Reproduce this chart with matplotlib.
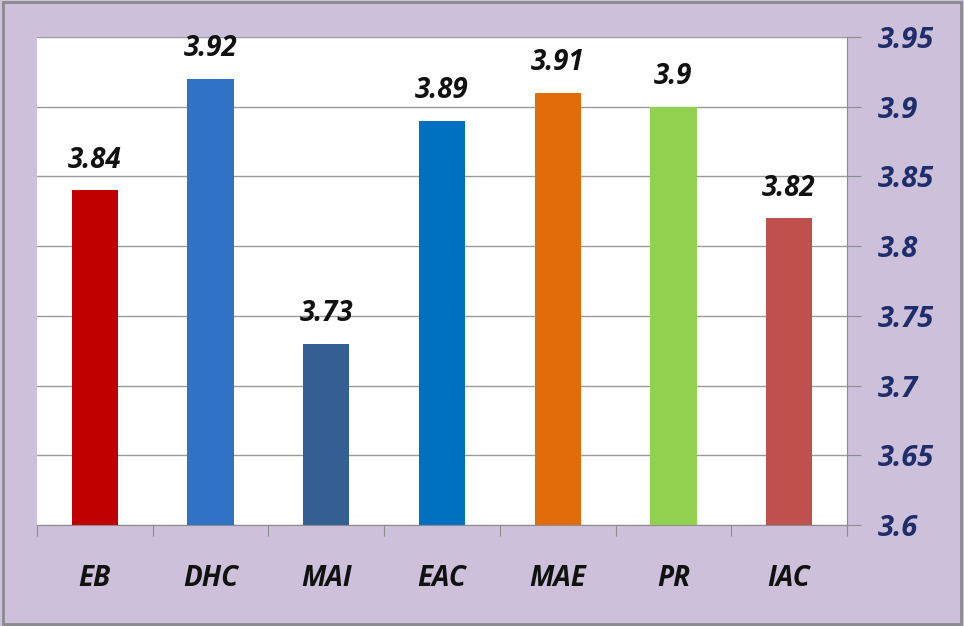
import matplotlib.pyplot as plt
from matplotlib.patches import Rectangle

categories = ["EB", "DHC", "MAI", "EAC", "MAE", "PR", "IAC"]
values = [3.84, 3.92, 3.73, 3.89, 3.91, 3.90, 3.82]
value_labels = ["3.84", "3.92", "3.73", "3.89", "3.91", "3.9", "3.82"]
colors = ["#c00000", "#3072c6", "#355e94", "#0070c0", "#e36c0a", "#92d050", "#c0504d"]
yticks = [3.6, 3.65, 3.7, 3.75, 3.8, 3.85, 3.9, 3.95]
ytick_labels = ["3.6", "3.65", "3.7", "3.75", "3.8", "3.85", "3.9", "3.95"]

plt.rcParams['font.family'] = ['Open Sans', 'DejaVu Sans']

fig = plt.figure(figsize=(9.64, 6.26), dpi=100, facecolor="#ccc0da")
fig.patches.append(Rectangle((0.003, 0.003), 0.994, 0.994, transform=fig.transFigure,
                             fill=False, edgecolor="#8a8a8a", linewidth=2))

ax = fig.add_axes([0.0384, 0.1613, 0.8402, 0.7796])
ax.set_facecolor("white")

x = range(len(categories))
ax.bar(x, [v - 3.6 for v in values], bottom=3.6, width=0.4, color=colors, zorder=3)

for i, v in enumerate(values):
    ax.text(i, v + 0.011, value_labels[i], ha="center", va="bottom",
            fontsize=20, fontweight="bold", style="italic", color="#111111")

ax.set_xlim(-0.5, len(categories) - 0.5)
ax.set_ylim(3.6, 3.95)
ax.set_yticks(yticks)
ax.set_yticklabels(ytick_labels, fontsize=21, fontweight="bold", style="italic", color="#1f2d6b")
ax.yaxis.tick_right()
ax.tick_params(axis="y", length=10, color="#8c8c8c", pad=12)
ax.grid(axis="y", color="#9a9a9a", linewidth=1, zorder=0)

ax.set_xticks([i - 0.5 for i in range(len(categories) + 1)], minor=False)
ax.set_xticklabels([])
ax.tick_params(axis="x", which="major", length=8, direction="out", color="#8c8c8c")
ax.set_xticks(list(x), minor=True)
ax.set_xticklabels(categories, minor=True, fontsize=20, fontweight="bold", style="italic", color="#111111")
ax.tick_params(axis="x", which="minor", length=0, pad=28)

for side in ["top", "left"]:
    ax.spines[side].set_visible(False)
for side in ["right", "bottom"]:
    ax.spines[side].set_color("#8c8c8c")

fig.savefig("out.png", dpi=100, facecolor=fig.get_facecolor())
